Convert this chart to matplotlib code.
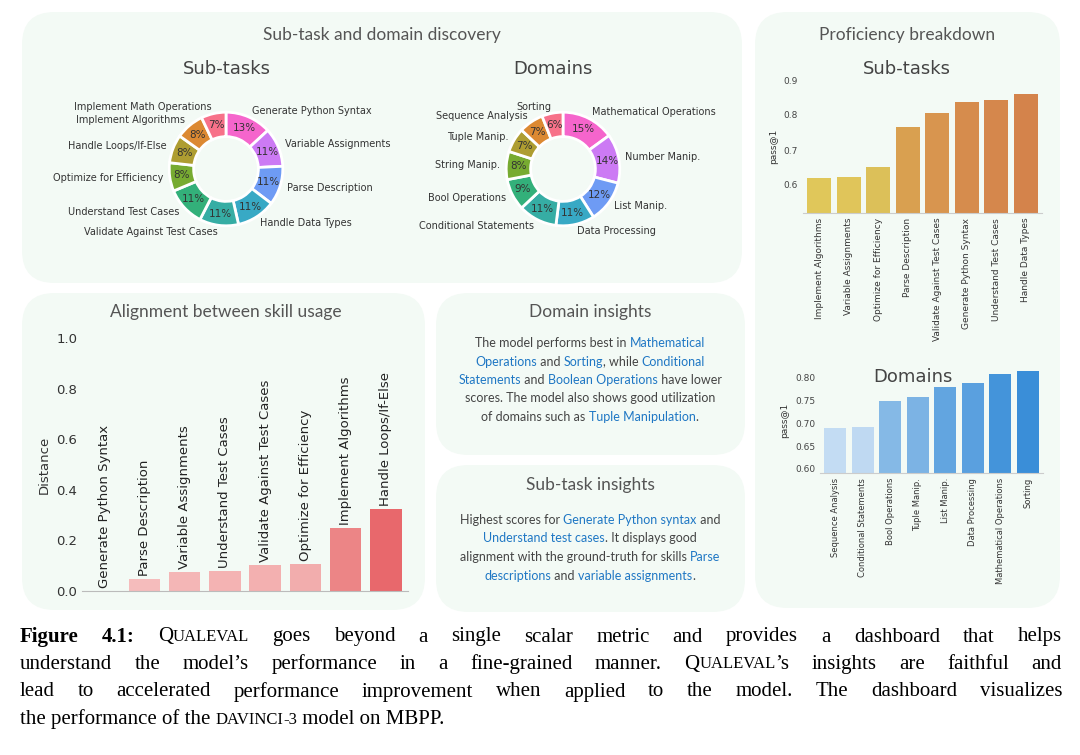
import numpy as np
import matplotlib
matplotlib.use("Agg")
import matplotlib.pyplot as plt
from matplotlib.patches import FancyBboxPatch

# Donut data
sub_labels = ["Generate Python Syntax", "Variable Assignments", "Parse Description",
              "Handle Data Types", "Validate Against Test Cases", "Understand Test Cases",
              "Optimize for Efficiency", "Handle Loops/If-Else", "Implement Algorithms",
              "Implement Math Operations"]
sub_share = [13, 11, 11, 11, 11, 11, 8, 8, 8, 7]
dom_labels = ["Mathematical Operations", "Number Manip.", "List Manip.", "Data Processing",
              "Conditional Statements", "Bool Operations", "String Manip.", "Tuple Manip.",
              "Sequence Analysis", "Sorting"]
dom_share = [15, 14, 12, 11, 11, 9, 8, 7, 7, 6]
donut_colors = ["#f565cc", "#cc7af4", "#6e9bf4", "#38a9c5", "#36ada4", "#33b07a",
                "#77ab31", "#ae9d31", "#dc8932", "#f77189"]

# Proficiency bars
prof_sub = ["Implement Algorithms", "Variable Assignments", "Optimize for Efficiency",
            "Parse Description", "Validate Against Test Cases", "Generate Python Syntax",
            "Understand Test Cases", "Handle Data Types"]
prof_sub_vals = [0.621, 0.623, 0.651, 0.765, 0.806, 0.837, 0.843, 0.860]
prof_sub_cols = ["#e0c75a", "#e0c55a", "#dcc059", "#d9a050", "#d8954f", "#d68c4d",
                 "#d5874c", "#d4834b"]
prof_dom = ["Sequence Analysis", "Conditional Statements", "Bool Operations", "Tuple Manip.",
            "List Manip.", "Data Processing", "Mathematical Operations", "Sorting"]
prof_dom_vals = [0.691, 0.693, 0.749, 0.759, 0.780, 0.790, 0.808, 0.815]
prof_dom_cols = ["#c3dcf3", "#bfd9f2", "#85b9e6", "#7cb3e4", "#62a5e0", "#5aa0df",
                 "#4494da", "#3a8ed8"]

# Alignment bars
align_labels = ["Generate Python Syntax", "Parse Description", "Variable Assignments",
                "Understand Test Cases", "Validate Against Test Cases",
                "Optimize for Efficiency", "Implement Algorithms", "Handle Loops/If-Else"]
align_vals = [0.0, 0.047, 0.075, 0.080, 0.103, 0.108, 0.250, 0.323]
align_cols = ["#f6c4c4", "#f5bcbc", "#f4b6b6", "#f4b3b3", "#f3b0b0", "#f2adad",
              "#ec8586", "#e8686c"]

W, H = 1080, 755
fig = plt.figure(figsize=(10.8, 7.55), dpi=100)
fig.patch.set_facecolor("white")
BLUE = "#1f77c4"
GRAY = "#555555"


def fx(x):
    return x / W


def fy(y):
    return 1 - y / H


def panel(x0, y0, x1, y1):
    p = FancyBboxPatch((fx(x0), fy(y1)), fx(x1 - x0), (y1 - y0) / H,
                       boxstyle="round,pad=0,rounding_size=0.03",
                       transform=fig.transFigure, facecolor="#f3faf5",
                       edgecolor="none", zorder=-10, mutation_aspect=W / H)
    fig.patches.append(p)


def axes_px(l, t, r, b):
    a = fig.add_axes([fx(l), fy(b), fx(r - l), (b - t) / H])
    a.set_facecolor("none")
    return a


panel(22, 12, 742, 283)
panel(755, 12, 1060, 608)
panel(22, 293, 425, 610)
panel(436, 293, 745, 455)
panel(436, 465, 745, 612)

title_kw = dict(fontsize=12.5, color=GRAY, family="Lato", ha="center", va="center")
fig.text(fx(382), fy(35), "Sub-task and domain discovery", **title_kw)
fig.text(fx(907), fy(35), "Proficiency breakdown", **title_kw)
fig.text(fx(226), fy(312), "Alignment between skill usage", **title_kw)
fig.text(fx(590), fy(312), "Domain insights", **title_kw)
fig.text(fx(590), fy(485), "Sub-task insights", **title_kw)

sub_kw = dict(fontsize=13, color="#444444", ha="center", va="center")
fig.text(fx(227), fy(69), "Sub-tasks", **sub_kw)
fig.text(fx(553), fy(69), "Domains", **sub_kw)
fig.text(fx(907), fy(69), "Sub-tasks", **sub_kw)
fig.text(fx(913), fy(377), "Domains", **sub_kw)

# Donuts
for cx, labels, share in [(226, sub_labels, sub_share), (563, dom_labels, dom_share)]:
    ax = axes_px(cx - 71, 169 - 71, cx + 71, 169 + 71)
    wedges, texts, autotexts = ax.pie(
        share, labels=labels, colors=donut_colors, startangle=90, counterclock=False,
        autopct=lambda p: f"{p:.0f}%", pctdistance=0.79, labeldistance=1.12,
        wedgeprops=dict(width=0.43, edgecolor="white", linewidth=2),
        textprops=dict(fontsize=7, color="#333333"))
    for t in autotexts:
        t.set_fontsize(7.5)
    ax.set_aspect("equal")

# Proficiency: sub-tasks
ax = axes_px(803, 80, 1042, 213)
x = np.arange(len(prof_sub))
ax.bar(x, prof_sub_vals, color=prof_sub_cols, width=0.8)
ax.set_ylim(0.52, 0.9)
ax.set_xlim(-0.55, len(x) - 0.45)
ax.set_yticks([0.6, 0.7, 0.8, 0.9])
ax.set_xticks(x, prof_sub, rotation=90, fontsize=6.5, color="#333333")
ax.set_ylabel("pass@1", fontsize=6.5, color="#333333")
ax.tick_params(axis="y", labelsize=6.5, length=0, colors="#444444")
ax.tick_params(axis="x", length=0)
for s in ["top", "right", "left"]:
    ax.spines[s].set_visible(False)
ax.spines["bottom"].set_color("#cccccc")

# Proficiency: domains
ax = axes_px(820, 368, 1043, 473)
x = np.arange(len(prof_dom))
ax.bar(x, prof_dom_vals, color=prof_dom_cols, width=0.8)
ax.set_ylim(0.591, 0.822)
ax.set_xlim(-0.55, len(x) - 0.45)
ax.set_yticks([0.60, 0.65, 0.70, 0.75, 0.80], ["0.60", "0.65", "0.70", "0.75", "0.80"])
ax.set_xticks(x, prof_dom, rotation=90, fontsize=6, color="#333333")
ax.set_ylabel("pass@1", fontsize=6.5, color="#333333")
ax.tick_params(axis="y", labelsize=6.5, length=0, colors="#444444")
ax.tick_params(axis="x", length=0)
for s in ["top", "right", "left"]:
    ax.spines[s].set_visible(False)
ax.spines["bottom"].set_color("#cccccc")

# Alignment
ax = axes_px(82, 338, 408, 591)
x = np.arange(len(align_labels))
ax.bar(x, align_vals, color=align_cols, width=0.78)
ax.set_ylim(0, 1.0)
ax.set_xlim(-0.55, len(x) - 0.45)
ax.set_yticks([0, 0.2, 0.4, 0.6, 0.8, 1.0])
ax.set_xticks([])
ax.set_ylabel("Distance", fontsize=9.5, color="#333333")
ax.tick_params(axis="y", labelsize=9.5, length=0, colors="#333333")
for i, (lab, v) in enumerate(zip(align_labels, align_vals)):
    ax.text(i, v + 0.012, lab, rotation=90, ha="center", va="bottom",
            fontsize=9.5, color="#222222")
for s in ["top", "right", "left"]:
    ax.spines[s].set_visible(False)
ax.spines["bottom"].set_color("#bbbbbb")

renderer = fig.canvas.get_renderer()


def seg_line(x, y, segs, ha="center", justify=None, **kw):
    objs = []
    widths = []
    for s, style in segs:
        opts = dict(kw)
        opts.update(style)
        t = fig.text(0, fy(y), s, va="center", ha="left", **opts)
        objs.append(t)
        widths.append(t.get_window_extent(renderer).width)
    total = sum(widths)
    start = x - total / 2 if ha == "center" else x
    for t, w in zip(objs, widths):
        t.set_x(fx(start))
        start += w


def justified(x0, x1, y, segs, **kw):
    # split into word pieces, then spread the gaps to fill the line
    pieces = []
    for s, style in segs:
        words = s.split(" ")
        for j, w in enumerate(words):
            if w == "":
                continue
            glue = j == 0 and not s.startswith(" ") and pieces
            pieces.append((w, style, bool(glue)))
    groups = []
    for w, style, glue in pieces:
        if glue:
            groups[-1].append((w, style))
        else:
            groups.append([(w, style)])
    objs = []
    for g in groups:
        row = []
        for w, style in g:
            opts = dict(kw)
            opts.update(style)
            t = fig.text(0, fy(y), w, va="center", ha="left", **opts)
            row.append((t, t.get_window_extent(renderer).width))
        objs.append(row)
    total = sum(wd for row in objs for _, wd in row)
    gap = (x1 - x0 - total) / max(len(objs) - 1, 1)
    pos = x0
    for row in objs:
        for t, wd in row:
            t.set_x(fx(pos))
            pos += wd
        pos += gap


pk = dict(fontsize=9, family="Lato", color="#444444")
B = {"color": BLUE}
N = {}
dom_lines = [
    [("The model performs best in ", N), ("Mathematical", B)],
    [("Operations", B), (" and ", N), ("Sorting", B), (", while ", N), ("Conditional", B)],
    [("Statements", B), (" and ", N), ("Boolean Operations", B), (" have lower", N)],
    [("scores. The model also shows good utilization", N)],
    [("of domains such as ", N), ("Tuple Manipulation", B), (".", N)],
]
for i, segs in enumerate(dom_lines):
    seg_line(590, 343 + i * 18.5, segs, **pk)

sub_lines = [
    [("Highest scores for ", N), ("Generate Python syntax", B), (" and", N)],
    [("Understand test cases", B), (". It displays good", N)],
    [("alignment with the ground-truth for skills ", N), ("Parse", B)],
    [("descriptions", B), (" and ", N), ("variable assignments", B), (".", N)],
]
for i, segs in enumerate(sub_lines):
    seg_line(590, 520 + i * 18.5, segs, **pk)

# Caption
ck = dict(fontsize=15, family="Liberation Serif", color="black")
BD = {"fontweight": "bold"}
SC = {"fontsize": 12}
cap = [
    [("Figure 4.1:", BD), (" Q", N), ("UALEVAL", SC),
     (" goes beyond a single scalar metric and provides a dashboard that helps", N)],
    [("understand the model\u2019s performance in a fine-grained manner. Q", N), ("UALEVAL", SC),
     ("\u2019s insights are faithful and", N)],
    [("lead to accelerated performance improvement when applied to the model. The dashboard visualizes", N)],
]
for i, segs in enumerate(cap):
    justified(20, 1062, 637 + i * 27.5, segs, **ck)
seg_line(20, 637 + 3 * 27.5,
         [("the performance of the ", N), ("DAVINCI", SC), ("-3", SC), (" model on MBPP.", N)],
         ha="left", **ck)

fig.savefig("out.png", dpi=100)
